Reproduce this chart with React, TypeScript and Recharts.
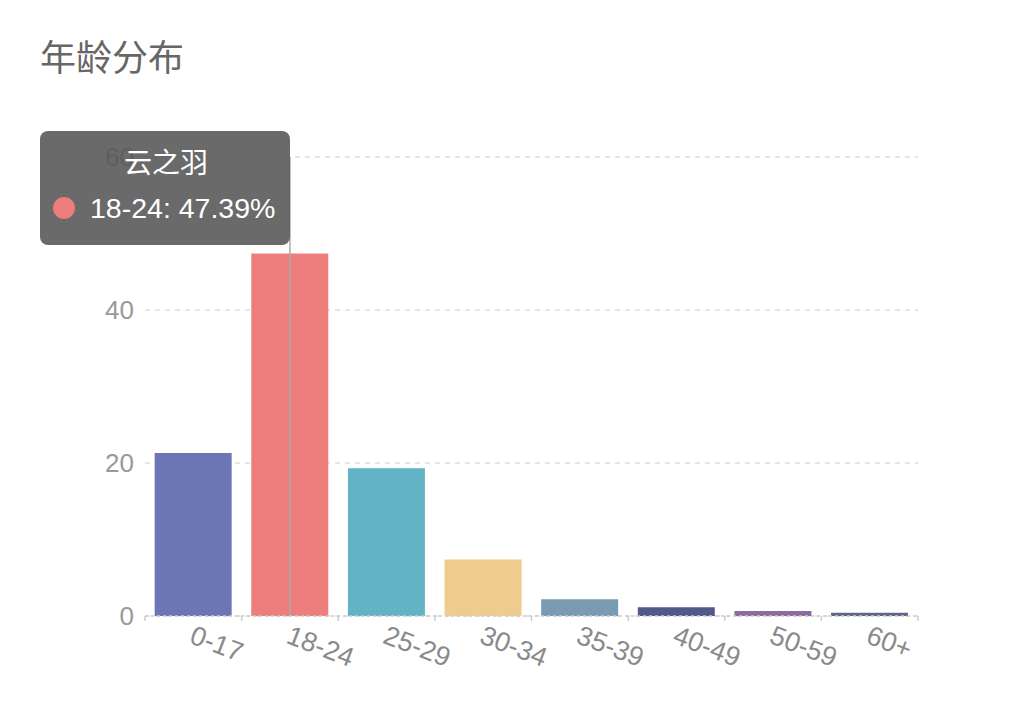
import { Bar, BarChart, CartesianGrid, Cell, ReferenceLine, Tooltip, XAxis, YAxis } from "recharts";

const ageGroups = ["0-17", "18-24", "25-29", "30-34", "35-39", "40-49", "50-59", "60+"];
const sharePct = [21.3, 47.39, 19.3, 7.4, 2.2, 1.14, 0.65, 0.42];
const yTicks = [0, 20, 40, 60];
const seriesName = "云之羽";
const activeIndex = 1;

const barColors = ["#6C75B5", "#EE7D7D", "#62B3C6", "#EFCB8E", "#7A9BB2", "#525888", "#8B6CA0", "#5F6689"];

const data = ageGroups.map((group, i) => ({ group, share: sharePct[i] }));

const FONT = "'Liberation Sans', 'Noto Sans CJK SC', sans-serif";

function AgeTick(props: any) {
  const { x, y, payload, index, visibleTicksCount } = props;
  const half = payload?.offset ?? 48;
  const axisY = y - 8;
  return (
    <g>
      <line x1={x - half} x2={x - half} y1={axisY} y2={axisY + 5} stroke="#ccc" strokeWidth={1.5} />
      {index === visibleTicksCount - 1 && (
        <line x1={x + half} x2={x + half} y1={axisY} y2={axisY + 5} stroke="#ccc" strokeWidth={1.5} />
      )}
      <text
        x={x + 2}
        y={y}
        dy={19}
        transform={`rotate(21, ${x}, ${y})`}
        textAnchor="start"
        fill="#8a8a8a"
        fontSize={27}
        fontFamily={FONT}
      >
        {payload.value}
      </text>
    </g>
  );
}

function TipBox({ active, payload }: any) {
  if (!active || !payload || !payload.length) return null;
  const item = payload[0];
  const idx = ageGroups.indexOf(item.payload.group);
  return (
    <div
      style={{
        width: 250,
        height: 114,
        boxSizing: "border-box",
        background: "rgba(85,85,85,0.88)",
        borderRadius: 8,
        color: "#fff",
        fontFamily: FONT,
        paddingTop: 17,
      }}
    >
      <div style={{ textAlign: "center", fontSize: 28, lineHeight: "32px", marginLeft: 2 }}>{seriesName}</div>
      <div style={{ display: "flex", alignItems: "center", marginTop: 12, paddingLeft: 13 }}>
        <span
          style={{
            display: "inline-block",
            width: 22,
            height: 22,
            borderRadius: 11,
            background: barColors[idx],
            marginRight: 15,
          }}
        />
        <span style={{ fontSize: 28.5, lineHeight: "32px" }}>
          {item.payload.group}: {Number(item.value).toFixed(2)}%
        </span>
      </div>
    </div>
  );
}

export default function App() {
  return (
    <div style={{ position: "absolute", left: 0, top: 0, width: 1024, height: 710, background: "#fff" }}>
      <div
        style={{
          position: "absolute",
          left: 40,
          top: 32,
          fontSize: 36,
          color: "#666",
          fontFamily: "'Noto Sans CJK SC', sans-serif",
          lineHeight: "46px",
        }}
      >
        年龄分布
      </div>
      <div style={{ position: "absolute", left: 0, top: 0 }}>
        <BarChart
          width={1024}
          height={710}
          data={data}
          margin={{ top: 157, right: 106, left: 0, bottom: 0 }}
          barCategoryGap="10%"
        >
          <CartesianGrid vertical={false} stroke="#ddd" strokeDasharray="5 5" strokeWidth={1.5} />
          <XAxis
            dataKey="group"
            height={94}
            interval={0}
            tickLine={false}
            axisLine={{ stroke: "#ccc", strokeDasharray: "3 3", strokeWidth: 1.5 }}
            tick={<AgeTick />}
          />
          <YAxis
            width={145}
            domain={[0, 60]}
            ticks={yTicks}
            axisLine={false}
            tickLine={false}
            tickMargin={5}
            tick={{ fill: "#999", fontSize: 26, fontFamily: FONT }}
          />
          <Tooltip
            defaultIndex={activeIndex}
            cursor={false}
            content={<TipBox />}
            position={{ x: 40, y: 131 }}
            isAnimationActive={false}
            wrapperStyle={{ zIndex: 10 }}
          />
          <Bar dataKey="share" name={seriesName} isAnimationActive={false}>
            {data.map((d, i) => (
              <Cell key={d.group} fill={barColors[i]} />
            ))}
          </Bar>
          <ReferenceLine x={ageGroups[activeIndex]} stroke="#aaa" strokeWidth={1.5} />
        </BarChart>
      </div>
    </div>
  );
}
